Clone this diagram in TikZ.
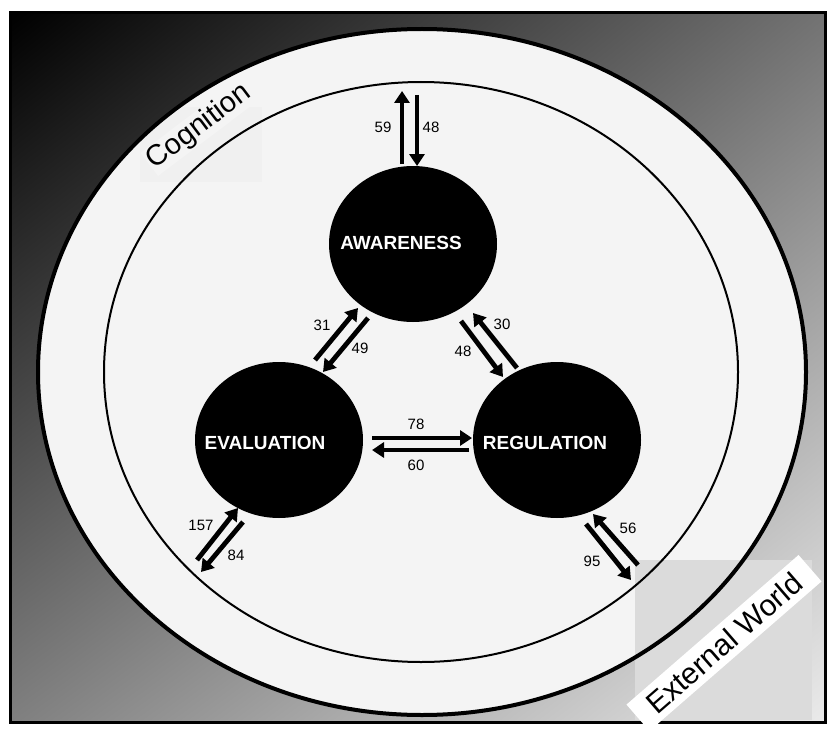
\documentclass[tikz,border=0pt]{standalone}
\usepackage{fontspec}
\setmainfont{Liberation Sans}
\usetikzlibrary{arrows.meta,calc,shapes.geometric,shadings}
\definecolor{paper}{HTML}{F4F4F4}
\begin{document}
\begin{tikzpicture}[x=1pt,y=-1pt,
  circ/.style={ellipse,fill=black,minimum width=168pt,minimum height=156pt,inner sep=0pt},
  lbl/.style={text=white,font=\fontsize{19}{19}\selectfont\bfseries,inner sep=0pt},
  arr/.style={line width=4.8pt,-{Triangle[length=12pt,width=15pt]}},
  num/.style={font=\fontsize{15}{15}\selectfont,inner sep=0pt},
  tag/.style={font=\fontsize{29}{29}\selectfont,inner sep=1pt}]
\useasboundingbox (0,0) rectangle (827,733);
\fill[white] (0,0) rectangle (827,733);
\shade[upper left=black, upper right=black!55, lower left=black!50, lower right=black!8] (10,13) rectangle (825,722);
\draw[line width=3pt] (10,13) rectangle (825,722);
\fill[paper] (422,372) ellipse [x radius=384, y radius=343];
\begin{scope}
  \clip (422,372) ellipse [x radius=384, y radius=343];
  \fill[gray!12] (140,107) rectangle (262,182);
\end{scope}
\fill[gray!28] (635,560) rectangle (812,720);
\draw[line width=4pt] (422,372) ellipse [x radius=384, y radius=343];
\draw[line width=2pt] (421,372) ellipse [x radius=317, y radius=290];

\node[tag,rotate=37,fill=paper] (cog) at (199,127) {Cognition};
\node[tag,rotate=41,fill=white,minimum width=228pt,minimum height=35pt,font=\fontsize{30}{30}\selectfont] (ext) at (724,643) {External World};

\node[circ] (aw) at (413,244) {};
\node[circ] (ev) at (279,440) {};
\node[circ] (re) at (557,440) {};
\node[lbl] (awt) at (401,243) {AWARENESS};
\node[lbl] (evt) at (265,443) {EVALUATION};
\node[lbl] (ret) at (545,443) {REGULATION};

\coordinate (t59) at (402,91);
\coordinate (t48) at (417,95);
\coordinate (e157) at (197,560);
\coordinate (e84) at (201,572);
\coordinate (r56) at (638,565);
\coordinate (r95) at (631,580);

\draw[arr] ($(aw)+(-11,-80)$) -- (t59);
\draw[arr] (t48) -- ($(aw)+(4,-78)$);
\draw[arr] ($(ev)+(36,-80)$) -- ($(aw)+(-55,64)$);
\draw[arr] ($(aw)+(-45,74)$) -- ($(ev)+(44,-68)$);
\draw[arr] ($(aw)+(48,77)$) -- ($(re)+(-54,-63)$);
\draw[arr] ($(re)+(-40,-72)$) -- ($(aw)+(60,69)$);
\draw[arr] ($(ev)+(93,-2)$) -- ($(re)+(-85,-2)$);
\draw[arr] ($(re)+(-88,10)$) -- ($(ev)+(93,10)$);
\draw[arr] (e157) -- ($(ev)+(-41,68)$);
\draw[arr] ($(ev)+(-36,82)$) -- (e84);
\draw[arr] (r56) -- ($(re)+(36,74)$);
\draw[arr] ($(re)+(29,84)$) -- (r95);

\node[num] (n59) at (383,127) {59};
\node[num] (n48a) at (431,127) {48};
\node[num] (n31) at (322,325) {31};
\node[num] (n49) at (360,348) {49};
\node[num] (n48b) at (463,351) {48};
\node[num] (n30) at (502,324) {30};
\node[num] (n78) at (416,424) {78};
\node[num] (n60) at (416,465) {60};
\node[num] (n157) at (201,525) {157};
\node[num] (n84) at (236,555) {84};
\node[num] (n56) at (628,528) {56};
\node[num] (n95) at (592,561) {95};
\end{tikzpicture}
\end{document}
